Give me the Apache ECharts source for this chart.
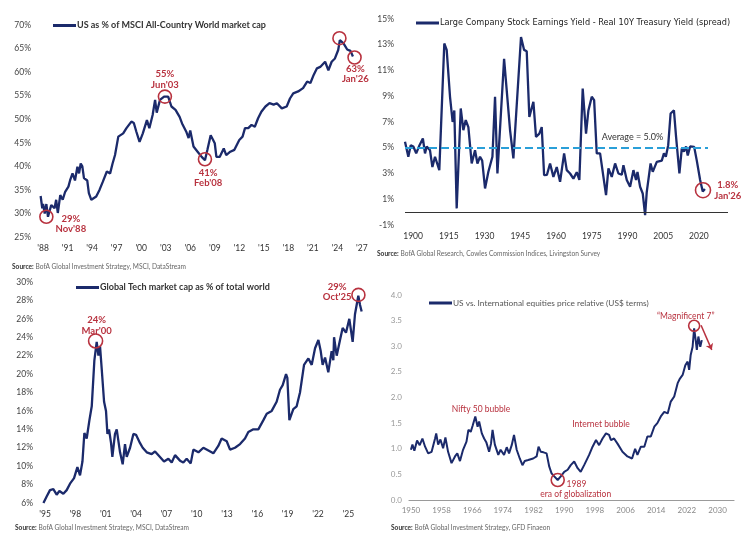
<!DOCTYPE html>
<html>
<head>
<meta charset="utf-8">
<script src="https://cdn.jsdelivr.net/npm/echarts@6/dist/echarts.min.js"></script>
<style>
  html, body { margin: 0; padding: 0; background: #fff; }
  #main { width: 752px; height: 542px; }
</style>
</head>
<body>
<div id="main"></div>
<script>
// top-left: US share of MSCI ACWI market cap (%)
var usShare = [
  [1987.7, 33.7], [1987.9, 31.1], [1988.0, 32.0], [1988.2, 30.0], [1988.4, 32.0], [1988.6, 29.3],
  [1989.0, 31.8], [1989.4, 31.1], [1989.6, 32.9], [1989.8, 30.1], [1990.1, 33.9], [1990.4, 32.9],
  [1990.7, 34.6], [1991.1, 35.7], [1991.3, 37.0], [1991.6, 38.5], [1991.9, 37.0], [1992.2, 39.9],
  [1992.4, 38.5], [1992.6, 40.6], [1992.8, 40.0], [1993.0, 37.5], [1993.4, 37.0], [1993.6, 34.3],
  [1993.9, 32.9], [1994.5, 33.6], [1994.9, 35.0], [1995.3, 36.7], [1995.8, 38.9], [1996.2, 38.5],
  [1996.5, 40.6], [1996.8, 42.4], [1997.2, 46.3], [1997.8, 47.0], [1998.2, 48.1], [1998.8, 49.5],
  [1999.1, 49.2], [1999.4, 47.4], [1999.8, 45.2], [2000.2, 47.0], [2000.7, 49.8], [2001.0, 48.1],
  [2001.4, 50.9], [2001.7, 54.1], [2001.9, 51.4], [2002.3, 54.1], [2002.8, 54.8], [2003.3, 54.8],
  [2003.7, 52.7], [2004.2, 52.0], [2004.7, 50.5], [2005.0, 49.1], [2005.5, 47.4], [2005.8, 46.0],
  [2006.0, 47.6], [2006.4, 44.2], [2006.9, 43.1], [2007.4, 42.0], [2007.8, 41.3], [2008.1, 43.5],
  [2008.5, 46.6], [2008.8, 45.6], [2009.0, 44.9], [2009.2, 42.0], [2009.6, 42.0], [2010.1, 43.8],
  [2010.4, 42.4], [2010.9, 43.1], [2011.4, 43.5], [2012.0, 45.6], [2012.4, 46.3], [2012.7, 48.1],
  [2013.1, 48.1], [2013.5, 48.8], [2013.9, 48.4], [2014.3, 50.2], [2014.7, 51.6], [2015.2, 52.7],
  [2015.7, 53.4], [2016.2, 53.1], [2016.6, 53.4], [2017.2, 52.3], [2017.8, 52.7], [2018.2, 54.4],
  [2018.6, 55.5], [2019.2, 55.9], [2019.8, 56.6], [2020.3, 58.0], [2020.7, 57.7], [2021.1, 59.4],
  [2021.5, 60.8], [2021.9, 61.1], [2022.5, 62.2], [2022.9, 60.4], [2023.3, 62.2], [2023.7, 62.9],
  [2024.1, 64.7], [2024.3, 66.8], [2024.75, 66.1], [2025.2, 64.8], [2025.6, 64.5], [2025.9, 63.3]
];

// top-right: earnings yield minus real 10y yield (%)
var yieldSpread = [
  [1896.6, 5.46], [1898.0, 4.3], [1899.0, 5.2], [1900.1, 5.1], [1901.3, 4.56], [1902.7, 5.2],
  [1904.1, 5.72], [1905.0, 4.56], [1905.7, 5.1], [1907.1, 4.8], [1908.1, 3.5], [1909.2, 4.3],
  [1911.0, 3.26], [1913.1, 13.1], [1914.1, 12.6], [1915.5, 8.96], [1916.6, 7.0], [1917.3, 7.9],
  [1918.3, 0.29], [1920.0, 8.05], [1921.1, 6.37], [1922.1, 7.15], [1923.2, 6.6], [1924.6, 3.78],
  [1926.0, 4.8], [1927.0, 3.78], [1928.1, 4.3], [1929.0, 4.0], [1930.2, 1.84], [1931.6, 3.13],
  [1933.3, 4.3], [1934.4, 8.96], [1935.4, 3.0], [1938.2, 11.9], [1940.7, 6.37], [1942.1, 4.17],
  [1945.3, 13.6], [1946.6, 12.6], [1947.7, 12.5], [1948.8, 7.4], [1950.5, 8.57], [1951.6, 5.85],
  [1953.0, 6.1], [1954.0, 6.6], [1955.0, 2.87], [1956.2, 2.9], [1957.5, 3.78], [1958.9, 2.74],
  [1960.3, 3.5], [1961.7, 2.35], [1963.4, 4.56], [1964.5, 3.26], [1965.9, 3.0], [1967.3, 2.6],
  [1968.7, 3.1], [1969.8, 2.5], [1971.2, 9.6], [1972.6, 6.1], [1973.6, 7.9], [1975.0, 8.96],
  [1976.0, 8.7], [1977.1, 4.56], [1978.5, 4.56], [1979.9, 2.74], [1981.0, 1.32], [1982.0, 3.4],
  [1983.4, 2.74], [1984.8, 3.78], [1986.2, 3.0], [1987.6, 2.9], [1988.3, 3.65], [1989.7, 2.5],
  [1991.1, 1.97], [1992.5, 3.26], [1993.6, 2.5], [1994.2, 3.13], [1995.3, 1.97], [1996.4, 1.45],
  [1997.4, -0.23], [1998.1, 1.58], [1998.9, 1.45], [1999.7, 3.78], [2000.6, 3.13], [2002.3, 3.9],
  [2004.4, 4.0], [2005.3, 4.56], [2006.1, 4.3], [2007.1, 5.2], [2008.1, 7.66], [2009.5, 7.9],
  [2010.4, 5.85], [2011.8, 3.0], [2012.8, 4.95], [2013.7, 4.7], [2014.6, 5.1], [2015.3, 4.4],
  [2016.3, 5.1], [2017.0, 4.95], [2018.0, 5.07], [2019.1, 4.0], [2020.5, 2.5], [2021.6, 1.6],
  [2022.5, 1.8]
];
var spreadAverage = 5.0;

// bottom-left: global tech as % of world market cap
var techShare = [
  [1994.84, 6.0], [1995.16, 6.7], [1995.49, 7.4], [1995.82, 7.5], [1996.15, 6.9], [1996.42, 7.3],
  [1996.81, 7.0], [1997.14, 7.4], [1997.47, 8.1], [1997.87, 8.7], [1998.2, 9.9], [1998.46, 9.0],
  [1998.7, 10.5], [1998.89, 13.6], [1999.12, 13.0], [1999.39, 15.0], [1999.62, 16.5], [1999.88, 21.5],
  [2000.11, 23.5], [2000.28, 22.0], [2000.44, 23.0], [2000.61, 20.5], [2000.84, 17.0], [2001.03, 16.0],
  [2001.17, 13.5], [2001.33, 14.0], [2001.53, 12.5], [2001.66, 11.0], [2001.92, 13.5], [2002.09, 14.0],
  [2002.42, 11.5], [2002.68, 10.2], [2002.91, 12.4], [2003.08, 11.0], [2003.41, 12.0], [2003.74, 13.5],
  [2004.0, 13.4], [2004.4, 12.5], [2004.66, 12.0], [2005.06, 11.5], [2005.55, 11.3], [2005.88, 11.6],
  [2006.37, 11.0], [2006.77, 10.5], [2007.2, 10.8], [2007.53, 10.4], [2007.86, 11.2], [2008.35, 10.6],
  [2008.68, 10.4], [2009.01, 10.8], [2009.41, 10.3], [2009.67, 11.8], [2010.17, 11.5], [2010.66, 12.0],
  [2011.16, 11.7], [2011.65, 11.4], [2012.14, 12.2], [2012.47, 13.0], [2012.97, 12.7], [2013.3, 11.8],
  [2013.79, 12.0], [2014.29, 12.4], [2014.78, 13.0], [2015.11, 13.7], [2015.61, 14.0], [2016.1, 14.0],
  [2016.6, 15.0], [2016.93, 15.7], [2017.42, 16.0], [2017.91, 17.0], [2018.24, 18.3], [2018.51, 18.8],
  [2018.84, 20.0], [2018.97, 19.6], [2019.17, 15.0], [2019.56, 16.2], [2019.89, 16.5], [2020.22, 18.0],
  [2020.62, 21.0], [2021.05, 21.7], [2021.38, 21.0], [2021.71, 22.8], [2022.04, 23.7], [2022.27, 22.5],
  [2022.46, 21.0], [2022.7, 21.8], [2023.02, 20.2], [2023.35, 22.5], [2023.52, 21.5], [2023.59, 24.0],
  [2023.85, 22.0], [2024.18, 23.7], [2024.44, 25.0], [2024.77, 24.5], [2025.1, 26.0], [2025.43, 23.5],
  [2025.66, 26.5], [2025.99, 28.5], [2026.16, 27.5], [2026.32, 26.8]
];

// bottom-right: US vs international price relative
var usVsIntl = [
  [1950.0, 0.98], [1950.4, 1.08], [1950.9, 0.96], [1951.6, 1.16], [1952.3, 1.07], [1953.0, 1.2],
  [1953.7, 1.04], [1954.5, 0.91], [1955.4, 0.94], [1956.3, 1.2], [1956.6, 1.3], [1957.1, 1.08],
  [1957.7, 1.18], [1958.4, 1.01], [1959.0, 1.22], [1959.7, 0.94], [1960.6, 0.72], [1961.5, 0.85],
  [1962.1, 0.91], [1962.8, 0.76], [1963.6, 0.98], [1964.5, 1.14], [1965.0, 1.37], [1965.6, 1.33],
  [1966.1, 1.45], [1966.8, 1.63], [1967.4, 1.43], [1967.8, 1.53], [1968.5, 1.3], [1969.1, 1.2],
  [1969.7, 1.12], [1970.4, 0.94], [1970.9, 1.1], [1971.3, 1.37], [1971.9, 1.08], [1972.8, 0.88],
  [1973.4, 0.98], [1974.3, 0.88], [1975.0, 1.03], [1975.6, 0.91], [1976.3, 1.07], [1976.9, 1.27],
  [1977.6, 0.98], [1978.4, 0.81], [1979.1, 0.68], [1979.7, 0.76], [1980.6, 0.78], [1981.9, 0.81],
  [1982.8, 0.85], [1983.3, 1.04], [1983.9, 0.94], [1984.6, 0.93], [1985.4, 0.91], [1986.1, 0.65],
  [1986.7, 0.52], [1987.4, 0.46], [1988.3, 0.39], [1989.1, 0.46], [1990.0, 0.55], [1990.9, 0.59],
  [1991.7, 0.68], [1992.6, 0.75], [1993.5, 0.62], [1994.3, 0.55], [1995.2, 0.68], [1996.5, 0.88],
  [1997.4, 1.04], [1998.3, 1.17], [1999.1, 1.07], [2000.0, 1.2], [2000.9, 1.3], [2001.7, 1.27],
  [2002.2, 1.17], [2003.0, 1.2], [2003.9, 1.1], [2005.2, 0.94], [2006.5, 0.85], [2007.7, 0.81],
  [2008.5, 1.0], [2009.1, 0.88], [2010.0, 1.04], [2010.9, 1.04], [2011.7, 1.24], [2012.6, 1.24],
  [2013.5, 1.43], [2014.3, 1.5], [2015.2, 1.63], [2016.1, 1.72], [2017.0, 1.69], [2017.8, 1.92],
  [2018.7, 2.02], [2019.6, 2.28], [2020.2, 2.37], [2020.9, 2.44], [2021.6, 2.63], [2022.2, 2.7],
  [2022.6, 2.54], [2023.0, 2.83], [2023.5, 2.99], [2023.9, 3.35], [2024.3, 3.12], [2024.6, 2.93],
  [2025.0, 3.19], [2025.5, 2.99], [2025.9, 3.12]
];

var ticks1 = [1988, 1991, 1994, 1997, 2000, 2003, 2006, 2009, 2012, 2015, 2018, 2021, 2024, 2027];
var ticks2 = [1900, 1915, 1930, 1945, 1960, 1975, 1990, 2005, 2020];
var ticks2y = [-1, 1, 3, 5, 7, 9, 11, 13, 15];
var ticks3 = [1995, 1998, 2001, 2004, 2007, 2010, 2013, 2016, 2019, 2022, 2025];
var ticks4 = [1950, 1958, 1966, 1974, 1982, 1990, 1998, 2006, 2014, 2022, 2030];

var NAVY = '#1b2a6b';
var RED = '#b8323f';
var FONT = 'Lato, "Liberation Sans", sans-serif';

var chart = echarts.init(document.getElementById('main'));

function shortYear(v) { return "'" + String(Math.round(v)).slice(2); }

function xAxisOf(idx, min, max, ticks, fmt, margin, lineShow, size, color) {
  return {
    type: 'value', gridIndex: idx, min: min, max: max,
    splitLine: { show: false },
    axisTick: { show: false },
    axisLine: { show: !!lineShow, onZero: false, lineStyle: { color: '#9a9a9a', width: 1.2 } },
    axisLabel: {
      customValues: ticks, formatter: fmt, margin: margin,
      fontSize: size, color: color, fontFamily: FONT
    }
  };
}

function yAxisOf(idx, opts, fmt, margin, size, color) {
  var a = {
    type: 'value', gridIndex: idx,
    splitLine: { show: false },
    axisTick: { show: false },
    axisLine: { show: false },
    axisLabel: { formatter: fmt, margin: margin, fontSize: size, color: color, fontFamily: FONT }
  };
  for (var k in opts) {
    if (k === 'customValues') a.axisLabel.customValues = opts[k];
    else a[k] = opts[k];
  }
  return a;
}

function ring(coord, size) {
  return {
    coord: coord, symbol: 'circle', symbolSize: size,
    itemStyle: { color: 'rgba(0,0,0,0)', borderColor: RED, borderWidth: 1.6 },
    label: { show: false }
  };
}

function note(coord, text, bold, color, size) {
  return {
    coord: coord, symbol: 'circle', symbolSize: 0,
    itemStyle: { color: 'rgba(0,0,0,0)' },
    label: {
      show: true, position: 'inside', formatter: text,
      color: color || RED, fontSize: size || 9.5, lineHeight: 10.5,
      fontWeight: bold ? 'bold' : 'normal', fontFamily: FONT
    }
  };
}

function lineSeries(name, idx, data, width, extra) {
  var s = {
    name: name, type: 'line', xAxisIndex: idx, yAxisIndex: idx,
    data: data, showSymbol: false, symbol: 'none', animation: false,
    lineStyle: { color: NAVY, width: width }, itemStyle: { color: NAVY },
    z: 3
  };
  for (var k in extra) s[k] = extra[k];
  return s;
}

function legendOf(name, left, top, weight, color, size, family) {
  return {
    data: [name], left: left, top: top, icon: 'rect',
    itemWidth: 23, itemHeight: 3, itemGap: 0, padding: 0,
    selectedMode: false,
    textStyle: { fontSize: size, color: color, fontWeight: weight, fontFamily: family || FONT, padding: [0, 0, 0, -4] }
  };
}

function sourceOf(text, left, top) {
  return {
    text: '{b|Source:} ' + text, left: left, top: top, padding: 0,
    textStyle: {
      fontSize: 6.6, color: '#666', fontWeight: 'normal', fontFamily: FONT,
      rich: { b: { fontSize: 6.6, fontWeight: 'bold', color: '#333', fontFamily: FONT } }
    }
  };
}

var name1 = 'US as % of MSCI All-Country World market cap';
var name2 = 'Large Company Stock Earnings Yield - Real 10Y Treasury Yield (spread)';
var name3 = 'Global Tech market cap as % of total world';
var name4 = 'US vs. International equities price relative (US$ terms)';

var option = {
  backgroundColor: '#fff',
  animation: false,
  title: [
    sourceOf('BofA Global Investment Strategy, MSCI, DataStream', 12, 263),
    sourceOf('BofA Global Research, Cowles Commission Indices, Livingston Survey', 377, 250),
    sourceOf('BofA Global Investment Strategy, MSCI, DataStream', 15, 524),
    sourceOf('BofA Global Investment Strategy, GFD Finaeon', 391, 524)
  ],
  legend: [
    legendOf(name1, 53, 21, 'bold', '#333', 9),
    legendOf(name2, 416, 19, 'normal', '#222', 8.2, '"DejaVu Sans", sans-serif'),
    legendOf(name3, 76, 283, 'bold', '#333', 9),
    legendOf(name4, 429, 299, 'normal', '#555', 8.3)
  ],
  grid: [
    { left: 39, top: 25, width: 327, height: 212 },
    { left: 405, top: 19, width: 323, height: 206 },
    { left: 41, top: 282, width: 325, height: 221 },
    { left: 409, top: 295, width: 325, height: 205 }
  ],
  xAxis: [
    xAxisOf(0, 1987.5, 2027.5, ticks1, shortYear, 7, false, 8.5, '#333'),
    xAxisOf(1, 1896.6, 2032.2, ticks2, function (v) { return String(Math.round(v)); }, 7, false, 8.5, '#333'),
    xAxisOf(2, 1994.6, 2026.75, ticks3, shortYear, 7, false, 8.5, '#333'),
    xAxisOf(3, 1949.5, 2034.3, ticks4, function (v) { return String(Math.round(v)); }, 6, true, 8, '#888')
  ],
  yAxis: [
    yAxisOf(0, { min: 25, max: 70, interval: 5 }, '{value}%', 8, 8.5, '#444'),
    yAxisOf(1, { min: -1, max: 15, customValues: ticks2y }, '{value}%', 11, 8.5, '#444'),
    yAxisOf(2, { min: 6, max: 30, interval: 2 }, '{value}%', 8, 8.5, '#444'),
    yAxisOf(3, { min: 0, max: 4, interval: 0.5 }, function (v) { return v.toFixed(1); }, 7, 8, '#999')
  ],
  series: [
    lineSeries(name1, 0, usShare, 2.3, {
      markPoint: {
        silent: true, animation: false,
        data: [
          ring([1988.4, 29.3], 13), note([1991.4, 27.8], "29%\nNov'88", true),
          ring([2002.9, 54.8], 13), note([2002.9, 58.4], "55%\nJun'03", true),
          ring([2007.8, 41.5], 13), note([2008.2, 37.5], "41%\nFeb'08", true),
          ring([2024.25, 67.2], 13), note([2024.1, 70.4], "67%\nNov'24", true),
          ring([2026.1, 63.1], 13), note([2026.2, 59.6], "63%\nJan'26", true)
        ]
      }
    }),
    lineSeries(name2, 1, yieldSpread, 2.3, {
      markLine: {
        silent: true, animation: false, symbol: ['none', 'none'],
        label: { show: false },
        data: [
          [{ coord: [1896.6, 0], lineStyle: { color: '#333', width: 1, type: 'solid' } }, { coord: [2032.2, 0] }],
          [{ coord: [1896.6, spreadAverage], lineStyle: { color: '#2a9fd8', width: 2, type: [8, 4] } }, { coord: [2023.8, spreadAverage] }]
        ]
      },
      markPoint: {
        silent: true, animation: false,
        data: [
          note([1992.1, 5.8], 'Average = ' + spreadAverage.toFixed(1) + '%', false, '#333', 9),
          ring([2021.7, 1.7], 15), note([2032.1, 1.7], "1.8%\nJan'26", true)
        ]
      }
    }),
    lineSeries(name3, 2, techShare, 2.3, {
      markPoint: {
        silent: true, animation: false,
        data: [
          ring([2000.0, 23.6], 14), note([2000.1, 25.3], "24%\nMar'00", true),
          ring([2026.0, 28.6], 13), note([2023.9, 28.9], "29%\nOct'25", true)
        ]
      }
    }),
    lineSeries(name4, 3, usVsIntl, 2, {
      markLine: {
        silent: true, animation: false, symbol: ['none', 'arrow'], symbolSize: 6,
        label: { show: false },
        data: [
          [{ coord: [2025.7, 3.41], lineStyle: { color: RED, width: 1.5, type: 'solid' } }, { coord: [2028.5, 2.93] }]
        ]
      },
      markPoint: {
        silent: true, animation: false,
        data: [
          ring([2023.9, 3.4], 11), note([2021.7, 3.58], '\u201cMagnificent 7\u201d', false, RED, 8.5),
          note([1968.3, 1.77], 'Nifty 50 bubble', false, RED, 8.5),
          note([1999.6, 1.48], 'Internet bubble', false, RED, 8.5),
          ring([1988.3, 0.39], 13),
          note([1993.2, 0.31], '1989', false, RED, 8.5),
          note([1993.0, 0.12], 'era of globalization', false, RED, 8.5)
        ]
      }
    })
  ]
};

option && chart.setOption(option);
</script>
</body>
</html>
